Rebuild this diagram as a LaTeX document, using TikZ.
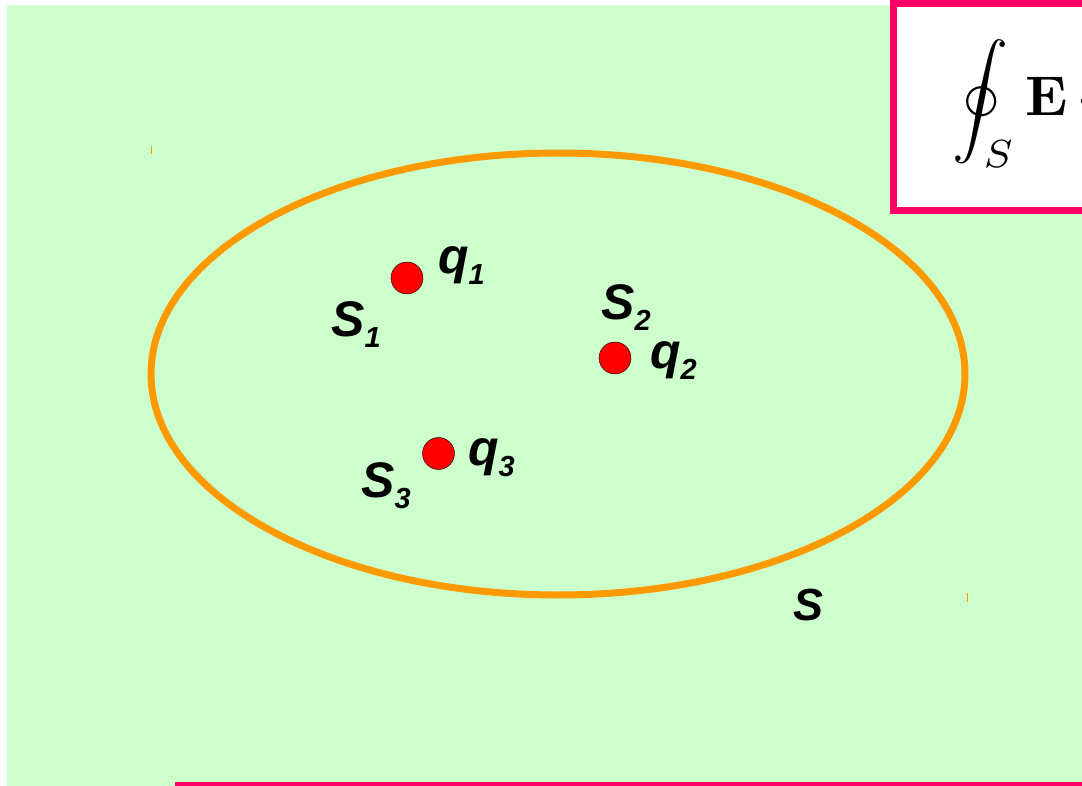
\RequirePackage{fix-cm}
\documentclass[tikz,border=0pt]{standalone}
\usepackage{graphicx}
\usepackage[no-math]{fontspec}
\newfontfamily\lblfont{Liberation Sans}
\usetikzlibrary{positioning}
\definecolor{bggreen}{HTML}{CCFFCC}
\definecolor{surforange}{HTML}{FF9900}
\definecolor{boxpink}{HTML}{FF0066}
\newcommand{\chg}[2]{#1\raisebox{-11pt}{\fontsize{29}{30}\selectfont #2}}
\tikzset{
  lbl/.style={font=\fontsize{50}{54}\selectfont\lblfont\bfseries\itshape, text=black, anchor=base west, inner sep=0pt},
  charge/.style={circle, draw=black, thin, fill=red, minimum size=32pt, inner sep=0pt}
}
\begin{document}
\begin{tikzpicture}[x=1pt,y=-1pt]
\useasboundingbox (0,0) rectangle (1082,786);
\clip (0,0) rectangle (1082,786);
\fill[bggreen] (7,5) rectangle (1082,786);

% Gauss surface
\draw[surforange,line width=7pt] (558,374) ellipse [x radius=407, y radius=221];
\draw[surforange,line width=1pt] (151.5,146) -- (151.5,154);
\draw[surforange,line width=1pt] (967.5,593) -- (967.5,602);

% charges
\node[charge] (q1) at (407,278) {};
\node[charge] (q2) at (615,358) {};
\node[charge] (q3) at (438.5,453.5) {};
\node[lbl] (lq1) at (438,274) {\chg{q}{1}};
\node[lbl] (lq2) at (650,369) {\chg{q}{2}};
\node[lbl] (lq3) at (468,465) {\chg{q}{3}};
\node[lbl] (ls1) at (331,337) {\chg{S}{1}};
\node[lbl] (ls2) at (601,320) {\chg{S}{2}};
\node[lbl] (ls3) at (361,497) {\chg{S}{3}};
\node[lbl,font=\fontsize{45}{48}\selectfont\lblfont\bfseries\itshape] (ls) at (793,620) {S};

% flux box
\draw[boxpink,fill=white,line width=7pt] (893.5,3.5) rectangle (1095,210.5);
\node[anchor=base west,inner sep=0pt] (flux) at (952,116) {\scalebox{5.6}{$\displaystyle\oint_S \mathbf{E}\,\cdot$}};

\draw[boxpink,line width=4pt] (175,784) -- (1082,784);
\end{tikzpicture}
\end{document}
